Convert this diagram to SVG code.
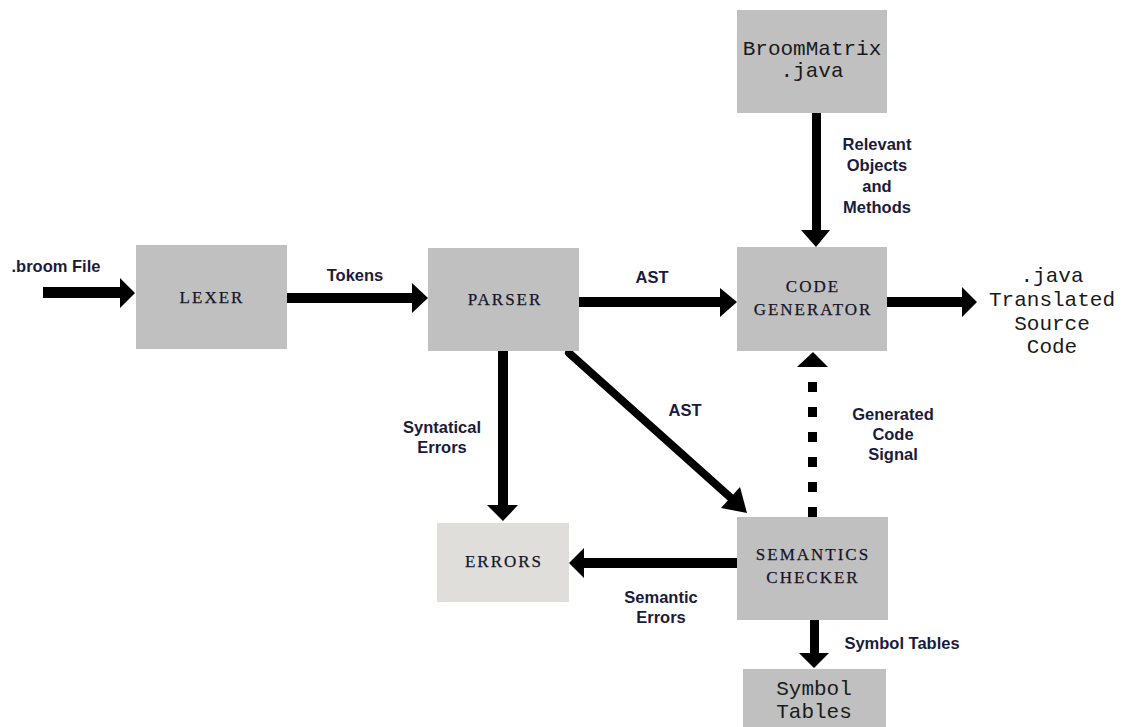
<svg xmlns="http://www.w3.org/2000/svg" width="1123" height="727" viewBox="0 0 1123 727">
<style>
.box{fill:#c0c0c0}
.err{fill:#dfdedb}
.serif{font-family:"Liberation Serif","Times New Roman",serif;font-size:17px;letter-spacing:2px;fill:#15152a;stroke:#15152a;stroke-width:0.25;text-anchor:middle}
.mono{font-family:"Liberation Mono","Courier New",monospace;font-size:21px;fill:#1a1a1a;text-anchor:middle}
.lbl{font-family:"Liberation Sans",Arial,sans-serif;font-size:16.5px;font-weight:bold;fill:#1b1b3b;text-anchor:middle}
.arr{fill:#000}
</style>
<rect width="1123" height="727" fill="#fff"/>
<g id="connectors">
  <path class="arr" d="M43,287H120V278L135,293L120,308V298H43Z"/>
  <path class="arr" d="M287,293H412V283L428,298L412,313V303H287Z"/>
  <path class="arr" d="M579,297H720V288L737,302L720,317V307H579Z"/>
  <path class="arr" d="M887,297H962V287L977,302L962,317V307H887Z"/>
  <path class="arr" d="M812,113H821V230H830L816,247L801,230H812Z"/>
  <path class="arr" d="M498,351H508V505H518L503,521L487,505H498Z"/>
  <path class="arr" d="M737,558V568H584V578L569,563L584,548V558Z"/>
  <path class="arr" d="M810,620H819V653H829L814,668L799,653H810Z"/>
  <line x1="569" y1="353" x2="731" y2="498" stroke="#000" stroke-width="8" stroke-linecap="round"/>
  <path class="arr" d="M747,513L721,508L740,487Z"/>
  <line x1="812.5" y1="517" x2="812.5" y2="367" stroke="#000" stroke-width="9" stroke-dasharray="10 15"/>
  <path class="arr" d="M813,352L828,367H797Z"/>
  <text class="lbl" x="56" y="272">.broom File</text>
  <text class="lbl" x="355" y="281">Tokens</text>
  <text class="lbl" x="652" y="283">AST</text>
  <text class="lbl" x="877" y="150">Relevant</text>
  <text class="lbl" x="877" y="171">Objects</text>
  <text class="lbl" x="877" y="192">and</text>
  <text class="lbl" x="877" y="213">Methods</text>
  <text class="lbl" x="442" y="433">Syntatical</text>
  <text class="lbl" x="442" y="453">Errors</text>
  <text class="lbl" x="685" y="416">AST</text>
  <text class="lbl" x="893" y="420">Generated</text>
  <text class="lbl" x="893" y="440">Code</text>
  <text class="lbl" x="893" y="460">Signal</text>
  <text class="lbl" x="661" y="603">Semantic</text>
  <text class="lbl" x="661" y="623">Errors</text>
  <text class="lbl" x="902" y="649">Symbol Tables</text>
</g>
<g id="lexer">
  <rect class="box" x="136" y="245" width="151" height="104"/>
  <text class="serif" x="212" y="303">LEXER</text>
</g>
<g id="parser">
  <rect class="box" x="428" y="248" width="151" height="103"/>
  <text class="serif" x="505" y="305">PARSER</text>
</g>
<g id="codegen">
  <rect class="box" x="737" y="247" width="150" height="104"/>
  <text class="serif" x="813" y="292">CODE</text>
  <text class="serif" x="813" y="315">GENERATOR</text>
</g>
<g id="broommatrix">
  <rect class="box" x="737" y="10" width="150" height="103"/>
  <text class="mono" x="812" y="55">BroomMatrix</text>
  <text class="mono" x="812" y="77">.java</text>
</g>
<g id="output">
  <text class="mono" x="1052" y="282">.java</text>
  <text class="mono" x="1052" y="306">Translated</text>
  <text class="mono" x="1052" y="330">Source</text>
  <text class="mono" x="1052" y="353">Code</text>
</g>
<g id="errors">
  <rect class="err" x="437" y="523" width="132" height="79"/>
  <text class="serif" x="504" y="567">ERRORS</text>
</g>
<g id="semantics">
  <rect class="box" x="737" y="517" width="151" height="103"/>
  <text class="serif" x="813" y="560">SEMANTICS</text>
  <text class="serif" x="813" y="583">CHECKER</text>
</g>
<g id="symboltables">
  <rect class="box" x="743" y="669" width="143" height="70"/>
  <text class="mono" x="814" y="695">Symbol</text>
  <text class="mono" x="814" y="718">Tables</text>
</g>
</svg>
